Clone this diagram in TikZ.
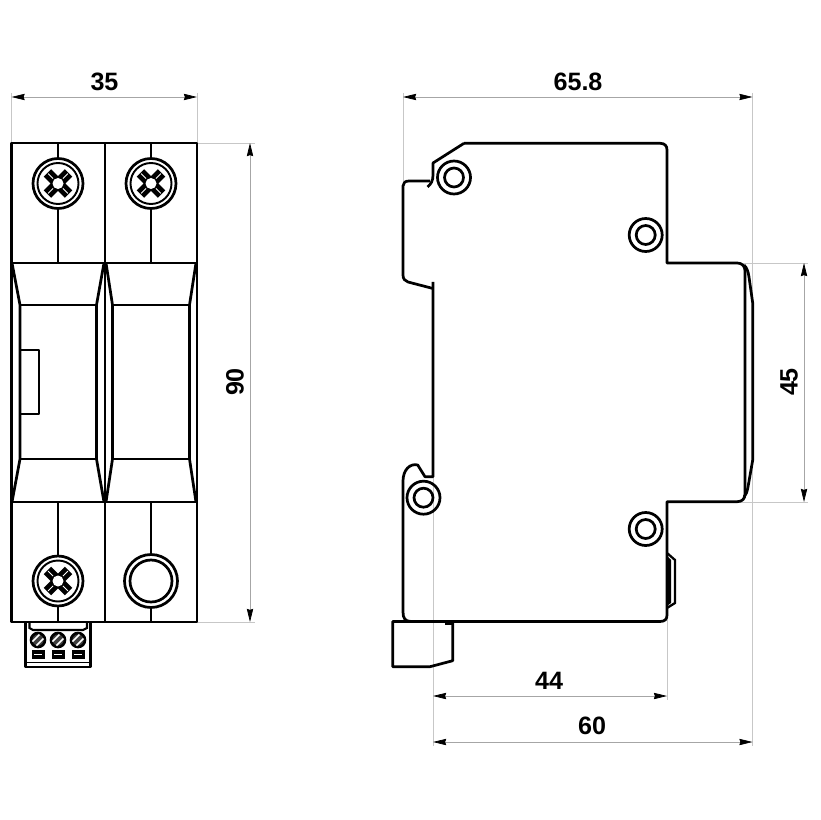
\documentclass[tikz,border=0pt]{standalone}
\usepackage{fontspec}
\setmainfont{Liberation Sans}
\usetikzlibrary{arrows.meta}
\tikzset{
    body/.style={line width=1.55pt,black,line join=round},
    dim/.style={line width=0.4pt,black!35,{Stealth[length=7.5pt,width=3.6pt,inset=0.6pt,black]}-{Stealth[length=7.5pt,width=3.6pt,inset=0.6pt,black]}},
    ext/.style={line width=0.4pt,black!22},
    dimtext/.style={font=\fontsize{14.3}{16}\selectfont\bfseries,inner sep=0pt},
    bolt/.pic={
      \fill[white] (0,0) circle (25);
      \draw[body] (0,0) circle (25);
      \draw[line width=1.1pt] (0,0) circle (20.5);
      \draw[line width=6pt,rotate=45] (-15,0) -- (15,0) (0,-15) -- (0,15);
      \draw[white,line width=0.45pt,rotate=45] (-14,0) -- (-7,0) (7,0) -- (14,0) (0,-14) -- (0,-7) (0,7) -- (0,14);
      \fill[white] (0,0) circle (5.5);
    },
    eyelet/.pic={
      \draw[body] (0,0) circle (16.5) (0,0) circle (9.5);
    }
}
\begin{document}
\begin{tikzpicture}[x=0.2mm,y=-0.2mm]
  \useasboundingbox (0,0) rectangle (820,820);

  % Extension lines
  \draw[ext] (11.5,93) -- (11.5,143) (197,93) -- (197,143);
  \draw[ext] (197,143) -- (255,143) (197,622) -- (255,622);
  \draw[ext] (403,93) -- (403,181) (752.5,93) -- (752.5,746);
  \draw[ext] (738,263) -- (808,263) (738,502) -- (808,502);
  \draw[ext] (433,477) -- (433,746) (667,608) -- (667,700);

  % Front view
  \draw[body] (11.5,143) rectangle (197,622);
  \draw[body] (105,143) -- (105,622);
  \draw[body] (11.5,263) -- (197,263) (11.5,502) -- (197,502);
  \draw[body] (58,143) -- (58,263) (151,143) -- (151,263);
  \draw[body] (58,502) -- (58,622) (151,502) -- (151,622);
  \draw[body] (12,263) -- (20,305) -- (20,459) -- (12,502);
  \draw[body] (104,263) -- (96.5,305) -- (96.5,459) -- (104,502);
  \draw[body] (106,263) -- (112.5,305) -- (112.5,459) -- (106,502);
  \draw[body] (196,263) -- (189.5,305) -- (189.5,459) -- (196,502);
  \draw[body] (20,305) -- (96.5,305) (112.5,305) -- (189.5,305);
  \draw[body] (20,459) -- (96.5,459) (112.5,459) -- (189.5,459);
  \draw[body] (20,350) -- (39,350) -- (39,414) -- (20,414);
  \path (58,183.5) pic {bolt} (151,183.5) pic {bolt} (58,581) pic {bolt};
  \filldraw[body,fill=white] (151,581) circle (26.5);
  \draw[body] (151,581) circle (21);

  % Terminal block
  \draw[body] (25.5,622) -- (25.5,667) -- (90.5,667) -- (90.5,622);
  \draw[line width=1.1pt] (25.5,662.5) -- (90.5,662.5);
  \draw[line width=1.2pt] (29.5,622) -- (29.5,628) -- (33,630) -- (83,630) -- (87,628) -- (87,622);
  \foreach \xc in {38,58,78} {
    \filldraw[line width=1.5pt,fill=black!75] (\xc,640) circle (7);
    \draw[white,line width=0.9pt] (\xc-5.5,641.5) -- (\xc+1.5,634.5) (\xc-1.5,645.5) -- (\xc+5.5,638.5);
    \fill (\xc-6.5,650) rectangle (\xc+6.5,659);
    \draw[white,line width=0.5pt] (\xc-4,654.5) -- (\xc+4,654.5);
  }

  % Side view
  \draw[body] (464,143.3) -- (433,163) -- (433,175) .. controls (433,181) and (431,184) .. (427.5,187);
  \draw[body] (430,181) -- (409,181) .. controls (405,181) and (403,183) .. (403,186) -- (403,275)
    .. controls (403,279) and (405,281) .. (408,282) -- (433,288.5);
  \draw[body] (433,282) -- (433,476.7) -- (425,476.7) -- (417.7,465)
    .. controls (410,463) and (403,470) .. (403,481) -- (403,612)
    .. controls (403,618) and (405,621.5) .. (411,621.5) -- (660,621.5)
    .. controls (665,621.5) and (667,619) .. (667,615) -- (667,501.7) -- (737,501.7)
    .. controls (742,501.7) and (745,499) .. (745,494) -- (745,271)
    .. controls (745,266) and (742,263) .. (737,263) -- (667,263) -- (667,150)
    .. controls (667,146) and (665,143.3) .. (660,143.3) -- (464,143.3);
  \draw[body] (744,265) .. controls (747,268) and (748,271) .. (749,277) -- (752.7,303) -- (752.7,460)
    -- (748,487) .. controls (747,492) and (746,495) .. (744,497);
  \draw[line width=1.3pt] (667,553) -- (675,560) -- (675,603) -- (667,608);
  \fill (667,556) -- (671,560) -- (671,603) -- (667,606) -- cycle;
  \draw[body] (392.7,621.5) -- (392.7,666.7) -- (430,666.7) -- (452.7,660.7) -- (452.7,621.5) -- cycle;
  \fill (445,621.5) rectangle (452,625);
  \path (454,177.5) pic {eyelet} (645.7,235) pic {eyelet} (645.7,529) pic {eyelet} (423.5,497.7) pic {eyelet};

  % Dimensions
  \node[dimtext] (w35) at (104.5,82) {35};
  \draw[dim] (11.5,97) -- (197,97);
  \node[dimtext] (w658) at (578,82) {65.8};
  \draw[dim] (403,97) -- (752.5,97);
  \node[dimtext,rotate=90] (h90) at (235,382) {90};
  \draw[dim] (250,143) -- (250,622);
  \node[dimtext,rotate=90] (h45) at (789,382) {45};
  \draw[dim] (804,263) -- (804,502);
  \node[dimtext] (w44) at (549,681) {44};
  \draw[dim] (433,696) -- (667,696);
  \node[dimtext] (w60) at (592,726) {60};
  \draw[dim] (433,742) -- (752.5,742);
\end{tikzpicture}
\end{document}
